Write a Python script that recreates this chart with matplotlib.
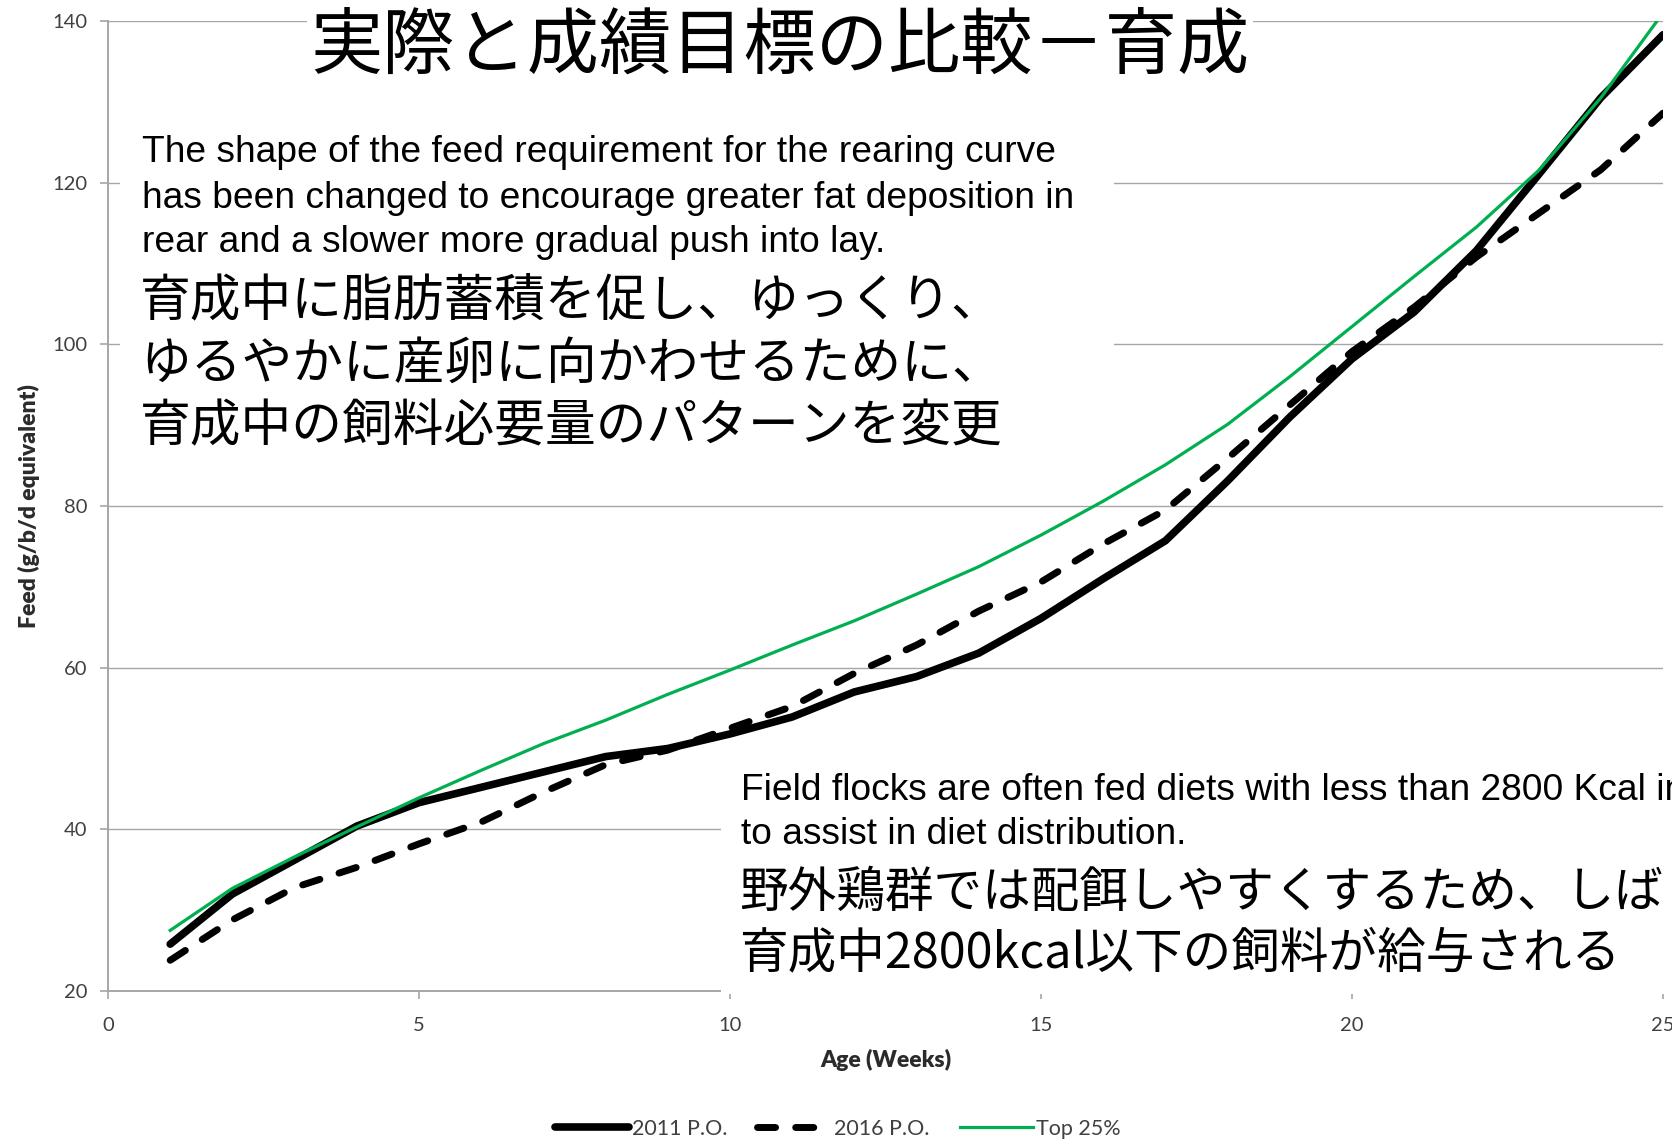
import matplotlib
matplotlib.use("Agg")
import matplotlib.pyplot as plt
from matplotlib.patches import Rectangle

# weekly feed intake (g/bird/day equivalent) during rearing
weeks = list(range(1, 26))
po_2011 = [25.8, 32.0, 36.2, 40.4, 43.3, 45.2, 47.1, 49.0, 50.0, 51.8,
           53.9, 57.0, 58.9, 61.8, 66.1, 71.0, 75.7, 83.1, 91.0, 98.2,
           104.0, 111.6, 121.0, 130.5, 138.3]
po_2016 = [23.8, 28.8, 32.8, 35.3, 38.2, 40.9, 44.6, 48.0, 49.8, 52.5,
           55.2, 59.3, 62.8, 67.0, 70.6, 75.3, 79.5, 85.9, 92.5, 99.1,
           104.6, 110.8, 116.2, 121.6, 128.6]
top_25 = [27.5, 32.7, 36.6, 40.3, 43.9, 47.3, 50.6, 53.5, 56.7, 59.7,
          62.8, 65.8, 69.1, 72.5, 76.4, 80.6, 85.1, 90.1, 96.0, 102.2,
          108.4, 114.5, 121.5, 130.5, 141.0]
series_labels = ["2011 P.O.", "2016 P.O.", "Top 25%"]

x_ticks = [0, 5, 10, 15, 20, 25]
y_ticks = [20, 40, 60, 80, 100, 120, 140]

title = "実際と成績目標の比較－育成"
upper_en = ["The shape of the feed requirement for the rearing curve",
            "has been changed to encourage greater fat deposition in",
            "rear and a slower more gradual push into lay."]
upper_ja = ["育成中に脂肪蓄積を促し、ゆっくり、",
            "ゆるやかに産卵に向かわせるために、",
            "育成中の飼料必要量のパターンを変更"]
lower_en = ["Field flocks are often fed diets with less than 2800 Kcal in rear",
            "to assist in diet distribution."]
lower_ja = ["野外鶏群では配餌しやすくするため、しばしば",
            "育成中2800kcal以下の飼料が給与される"]

W, H = 1672, 1141
JA = ["Noto Sans CJK JP", "DejaVu Sans"]
EN = ["Liberation Sans", "DejaVu Sans"]
AXIS_TXT = "#404040"
LABEL_TXT = "#2b2b2b"
GRID = "#A6A6A6"

plt.rcParams["font.family"] = ["Lato", "DejaVu Sans"]
plt.rcParams["lines.scale_dashes"] = False


def fx(px):
    return px / W


def fy(py):
    return 1 - py / H


fig = plt.figure(figsize=(W / 100, H / 100), dpi=100)
ax = fig.add_axes([fx(108), fy(991), (1663 - 108) / W, (991 - 21) / H])

ax.plot(weeks, po_2011, color="black", lw=5.5, solid_capstyle="round",
        solid_joinstyle="round", label=series_labels[0])
ax.plot(weeks, po_2016, color="black", lw=5.0, dashes=(13, 14.5),
        dash_capstyle="round", dash_joinstyle="round", label=series_labels[1])
ax.plot(weeks, top_25, color="#00B050", lw=2.3, solid_joinstyle="round",
        label=series_labels[2])

ax.set_xlim(0, 25)
ax.set_ylim(20, 140)
ax.set_xticks(x_ticks)
ax.set_yticks(y_ticks)
ax.tick_params(direction="out", length=6, width=1.2, color=GRID,
               labelcolor=AXIS_TXT, labelsize=14.5)
ax.tick_params(axis="y", pad=9)
ax.tick_params(axis="x", pad=12.5)
ax.set_axisbelow(True)
ax.yaxis.grid(True, color=GRID, lw=1.0)
for side in ("top", "right"):
    ax.spines[side].set_visible(False)
for side in ("left", "bottom"):
    ax.spines[side].set_color(GRID)
    ax.spines[side].set_linewidth(1.4)

ax.set_xlabel("Age (Weeks)", fontsize=16.5, fontweight="heavy",
              color=LABEL_TXT)
ax.set_ylabel("Feed (g/b/d equivalent)", fontsize=16.5, fontweight="heavy",
              color=LABEL_TXT)
ax.xaxis.set_label_coords(0.5, -0.060)
ax.yaxis.set_label_coords(-0.044, 0.5)

fig.legend(loc="center", bbox_to_anchor=(fx(838), fy(1129)), ncol=3,
           frameon=False, fontsize=15.5, labelcolor=AXIS_TXT,
           handlelength=3.4, handletextpad=0.15, columnspacing=1.4)

# white panels behind the annotation text (they mask the grid underneath)
fig.add_artist(Rectangle((fx(120), fy(470)), (1114 - 120) / W, 370 / H,
                         transform=fig.transFigure, facecolor="white",
                         edgecolor="none", zorder=2))
fig.add_artist(Rectangle((fx(721), fy(994)), (W - 721) / W, (994 - 760) / H,
                         transform=fig.transFigure, facecolor="white",
                         edgecolor="none", zorder=2))

fig.text(fx(780), fy(48), title, family=JA, fontsize=52, ha="center",
         va="center", zorder=3,
         bbox=dict(facecolor="white", edgecolor="none", pad=2))

for text, y in zip(upper_en, [153, 198, 243]):
    fig.text(fx(142), fy(y), text, family=EN, fontsize=26.7, ha="left",
             va="center", zorder=3)
for text, y in zip(upper_ja, [301, 365, 427]):
    fig.text(fx(140), fy(y), text, family=JA, fontsize=36.5, ha="left",
             va="center", zorder=3)
for text, y in zip(lower_en, [790, 835]):
    fig.text(fx(741), fy(y), text, family=EN, fontsize=26.7, ha="left",
             va="center", zorder=3)
for text, y in zip(lower_ja, [893, 954]):
    fig.text(fx(739), fy(y), text, family=JA, fontsize=35, ha="left",
             va="center", zorder=3)

fig.savefig("out.png", dpi=100)
plt.close(fig)
